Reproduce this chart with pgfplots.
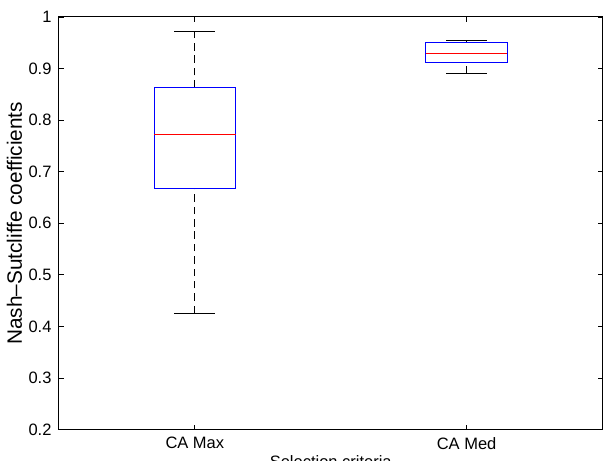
\documentclass[border=0pt]{standalone}
\usepackage{fontspec}
\setmainfont{Liberation Sans}
\usepackage{pgfplots}
\pgfplotsset{compat=1.18}
\begin{document}
\begin{tikzpicture}
\begin{axis}[
  name=ax,
  scale only axis,
  width=329.7pt, height=250.3pt,
  xmin=0.5, xmax=2.5, ymin=0.2, ymax=1,
  xtick={1,2}, xticklabels={CA Max, CA Med},
  ytick={0.2,0.3,0.4,0.5,0.6,0.7,0.8,0.9,1},
  yticklabel style={/pgf/number format/fixed,/pgf/number format/precision=1},
  /pgf/number format/assume math mode=true,
  tick align=inside, tick pos=both,
  major tick length=3pt,
  tick style={black, line width=0.5pt},
  axis line style={line width=0.6pt},
  font=\fontsize{10}{12}\selectfont,
  ticklabel style={font=\fontsize{10}{12}\selectfont},
  xlabel={Selection criteria},
  ylabel={Nash--Sutcliffe coefficients},
  xlabel style={yshift=3pt, font=\fontsize{10}{12}\selectfont},
  ylabel style={yshift=-3pt, font=\fontsize{12.6}{14}\selectfont},
  xticklabel style={yshift=-1pt},
  yticklabel style={xshift=-1pt},
]
% CA Max
\addplot[black, line width=0.6pt, dash pattern=on 4.5pt off 3pt] coordinates {(1,0.863) (1,0.971)};
\addplot[black, line width=0.6pt, dash pattern=on 4.5pt off 3pt] coordinates {(1,0.426) (1,0.668)};
\addplot[black, line width=0.6pt] coordinates {(0.925,0.971) (1.075,0.971)};
\addplot[black, line width=0.6pt] coordinates {(0.925,0.426) (1.075,0.426)};
\addplot[blue, line width=0.6pt] coordinates {(0.85,0.668) (1.15,0.668) (1.15,0.863) (0.85,0.863) (0.85,0.668)};
\addplot[red, line width=0.6pt] coordinates {(0.85,0.773) (1.15,0.773)};
% CA Med
\addplot[black, line width=0.6pt, dash pattern=on 4.5pt off 3pt] coordinates {(2,0.950) (2,0.955)};
\addplot[black, line width=0.6pt, dash pattern=on 4.5pt off 3pt] coordinates {(2,0.890) (2,0.911)};
\addplot[black, line width=0.6pt] coordinates {(1.925,0.955) (2.075,0.955)};
\addplot[black, line width=0.6pt] coordinates {(1.925,0.890) (2.075,0.890)};
\addplot[blue, line width=0.6pt] coordinates {(1.85,0.911) (2.15,0.911) (2.15,0.950) (1.85,0.950) (1.85,0.911)};
\addplot[red, line width=0.6pt] coordinates {(1.85,0.930) (2.15,0.930)};
\end{axis}
\pgfresetboundingbox
\path ([xshift=-35.75pt,yshift=-18.8pt]ax.south west) rectangle ([xshift=0.3pt,yshift=10.3pt]ax.north east);
\end{tikzpicture}
\end{document}
